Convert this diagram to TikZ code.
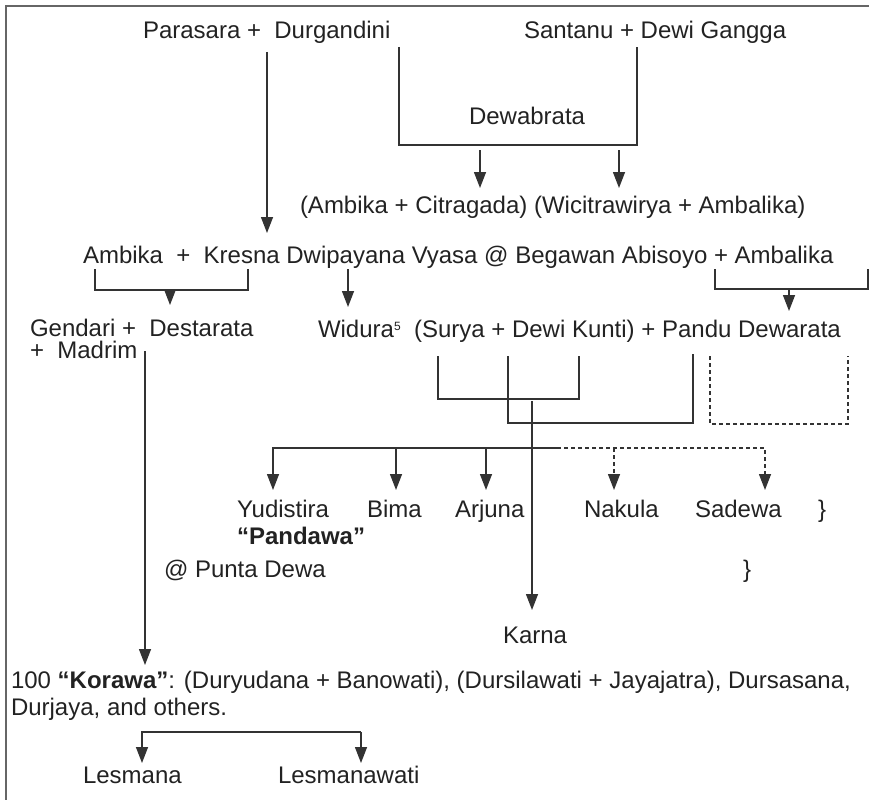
\documentclass[tikz,border=0pt]{standalone}
\usepackage{fontspec}
\setmainfont{Liberation Sans}
\usetikzlibrary{arrows.meta}
\definecolor{ink}{HTML}{222222}
\definecolor{wire}{HTML}{333333}
\tikzset{
  lbl/.style={anchor=base west,inner sep=0pt,outer sep=0pt,text=ink,font=\fontsize{24}{26}\selectfont},
  wirel/.style={draw=wire,line width=1.4pt},
  arr/.style={wirel,-{Triangle[width=12pt,length=16pt]}},
  dsh/.style={dash pattern=on 4pt off 3pt},
  framel/.style={draw=gray!80!black,line width=2pt}
}
\begin{document}
\begin{tikzpicture}[x=1pt,y=-1pt]
\useasboundingbox (0,0) rectangle (869,800);
% frame
\coordinate (fr1) at (869,6);
\coordinate (fr2) at (6,6);
\coordinate (fr3) at (6,800);
\draw[framel] (fr1) -- (fr2) -- (fr3);
% texts
\node[lbl] (parasara) at (143,39) {Parasara + \ Durgandini};
\node[lbl] (santanu) at (524,38) {Santanu + Dewi Gangga};
\node[lbl] (dewabrata) at (469,124) {Dewabrata};
\node[lbl] (ambcit) at (300,213) {(Ambika + Citragada) (Wicitrawirya + Ambalika)};
\node[lbl] (vyasa) at (83,263) {Ambika \ + \ Kresna Dwipayana Vyasa @ Begawan Abisoyo + Ambalika};
\node[lbl] (gendari) at (30,336) {Gendari + \ Destarata};
\node[lbl] (madrim) at (30,358) {+ \ Madrim};
\node[lbl] (widura) at (318,337) {Widura{\fontsize{12}{12}\selectfont\raisebox{7pt}{5}}\ \ (Surya + Dewi Kunti) + Pandu Dewarata};
\node[lbl] (yudistira) at (237,517) {Yudistira};
\node[lbl] (bima) at (367,517) {Bima};
\node[lbl] (arjuna) at (455,517) {Arjuna};
\node[lbl] (nakula) at (584,517) {Nakula};
\node[lbl] (sadewa) at (695,517) {Sadewa};
\node[lbl] (brace1) at (818,517) {\}};
\node[lbl] (pandawa) at (237,544) {\textbf{“Pandawa”}};
\node[lbl] (punta) at (164,577) {@ Punta Dewa};
\node[lbl] (brace2) at (743,577) {\}};
\node[lbl] (karna) at (503,643) {Karna};
\node[lbl] (korawa) at (11,688) {100 \textbf{“Korawa”}: (Duryudana + Banowati), (Dursilawati + Jayajatra), Dursasana,};
\node[lbl] (durjaya) at (11,715) {Durjaya, and others.};
\node[lbl] (lesmana) at (83,783) {Lesmana};
\node[lbl] (lesmanawati) at (278,783) {Lesmanawati};
% junction coordinates
\coordinate (pa1) at (267,52); \coordinate (pa2) at (267,233);
\coordinate (dw1) at (399,47); \coordinate (dw2) at (399,145); \coordinate (dw3) at (637,145); \coordinate (dw4) at (637,47);
\coordinate (ac1) at (480,150); \coordinate (ac2) at (480,188);
\coordinate (ac3) at (619,150); \coordinate (ac4) at (619,188);
\coordinate (ab1) at (95,269); \coordinate (ab2) at (95,290); \coordinate (ab3) at (248,290); \coordinate (ab4) at (248,269);
\coordinate (de1) at (170,290); \coordinate (de2) at (170,305);
\coordinate (wi1) at (348,269); \coordinate (wi2) at (348,307);
\coordinate (am1) at (715,269); \coordinate (am2) at (715,289); \coordinate (am3) at (868,289); \coordinate (am4) at (868,269);
\coordinate (pd1) at (789,289); \coordinate (pd2) at (789,311);
\coordinate (md1) at (145,351); \coordinate (md2) at (145,665);
\coordinate (su1) at (438,356); \coordinate (su2) at (438,399); \coordinate (su3) at (579,399); \coordinate (su4) at (579,356);
\coordinate (ku1) at (508,356); \coordinate (ku2) at (508,423); \coordinate (ku3) at (693,423); \coordinate (ku4) at (693,354);
\coordinate (ka1) at (532,401); \coordinate (ka2) at (532,610);
\coordinate (mq1) at (710,356); \coordinate (mq2) at (710,424); \coordinate (mq3) at (848,424); \coordinate (mq4) at (848,356);
\coordinate (pw1) at (273,448); \coordinate (pw2) at (557,448); \coordinate (pw3) at (765,448);
\coordinate (yu) at (273,490); \coordinate (bi0) at (396,448); \coordinate (bi) at (396,490);
\coordinate (ar0) at (486,448); \coordinate (ar) at (486,490);
\coordinate (na0) at (614,448); \coordinate (na) at (614,490); \coordinate (sa) at (765,490);
\coordinate (le1) at (142,732); \coordinate (le2) at (361,732);
\coordinate (le3) at (142,763); \coordinate (le4) at (361,763);
% connectors
\draw[arr] (pa1) -- (pa2);
\draw[wirel] (dw1) -- (dw2) -- (dw3) -- (dw4);
\draw[arr] (ac1) -- (ac2);
\draw[arr] (ac3) -- (ac4);
\draw[wirel] (ab1) -- (ab2) -- (ab3) -- (ab4);
\draw[arr] (de1) -- (de2);
\draw[arr] (wi1) -- (wi2);
\draw[wirel] (am1) -- (am2) -- (am3) -- (am4);
\draw[arr] (pd1) -- (pd2);
\draw[arr] (md1) -- (md2);
\draw[wirel] (su1) -- (su2) -- (su3) -- (su4);
\draw[wirel] (ku1) -- (ku2) -- (ku3) -- (ku4);
\draw[arr] (ka1) -- (ka2);
\draw[wirel,dsh] (mq1) -- (mq2) -- (mq3) -- (mq4);
\draw[arr] (pw2) -- (pw1) -- (yu);
\draw[arr] (bi0) -- (bi);
\draw[arr] (ar0) -- (ar);
\draw[arr,dsh] (pw2) -- (pw3) -- (sa);
\draw[arr,dsh] (na0) -- (na);
\draw[arr] (le2) -- (le1) -- (le3);
\draw[arr] (le2) -- (le4);
\end{tikzpicture}
\end{document}
